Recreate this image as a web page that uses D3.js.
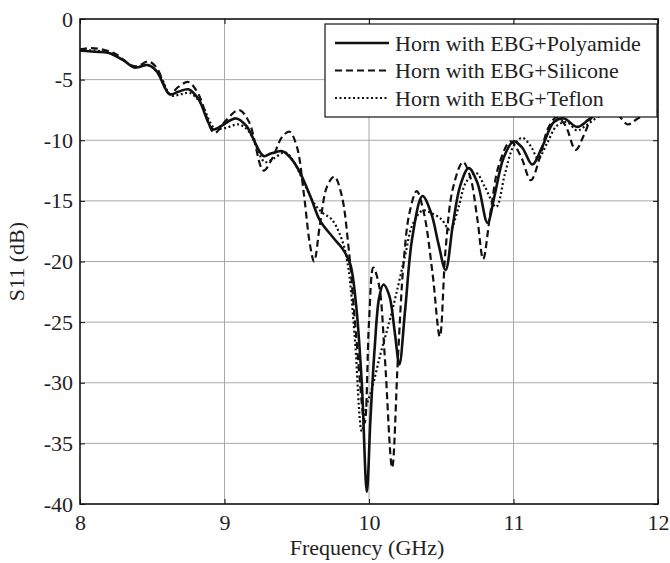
<!DOCTYPE html>
<html>
<head>
<meta charset="utf-8">
<script src="https://cdn.jsdelivr.net/npm/d3@7"></script>
<style>
  html, body { margin: 0; padding: 0; background: #fff; }
  svg { display: block; }
  text { font-family: "Liberation Serif", "Times New Roman", serif; fill: #222; }
</style>
</head>
<body>
<svg id="chart" width="670" height="563"></svg>
<script>
// ---------- DATA ----------
const xTicks = [8, 9, 10, 11, 12];
const yTicks = [0, -5, -10, -15, -20, -25, -30, -35, -40];
const seriesNames = ["Horn with EBG+Polyamide", "Horn with EBG+Silicone", "Horn with EBG+Teflon"];

const polyamide = [
  [8.00,-2.6],[8.10,-2.7],[8.20,-2.8],[8.30,-3.4],[8.38,-4.0],[8.47,-3.8],[8.53,-4.3],
  [8.62,-6.2],[8.68,-6.0],[8.75,-5.8],[8.82,-6.6],[8.92,-9.1],[8.98,-8.8],[9.08,-8.2],
  [9.15,-8.8],[9.27,-11.3],[9.32,-11.1],[9.40,-10.9],[9.46,-11.5],[9.52,-12.6],[9.60,-14.8],
  [9.66,-16.6],[9.75,-18.0],[9.82,-19.0],[9.87,-20.2],[9.91,-23.5],[9.95,-30],[9.985,-39.0],
  [10.01,-33],[10.04,-27],[10.07,-23],[10.10,-21.9],[10.14,-22.8],[10.18,-26],[10.21,-28.5],
  [10.25,-24],[10.30,-18],[10.37,-14.6],[10.43,-16],[10.48,-18.5],[10.53,-20.7],[10.58,-17],
  [10.63,-13.8],[10.69,-12.3],[10.75,-13.5],[10.82,-16.8],[10.87,-14.5],[10.93,-11.5],
  [11.00,-10.1],[11.06,-10.6],[11.13,-12.0],[11.20,-10.5],[11.28,-8.5],[11.35,-8.2],
  [11.44,-8.9],[11.52,-8.3],[11.60,-7.6],[11.70,-7.3],[11.80,-7.6],[11.90,-7.7],[12.00,-7.6]
];

const silicone = [
  [8.00,-2.5],[8.08,-2.4],[8.15,-2.5],[8.25,-2.9],[8.35,-3.8],[8.40,-3.9],[8.47,-3.5],
  [8.53,-4.0],[8.62,-6.2],[8.68,-5.6],[8.75,-5.2],[8.82,-6.2],[8.93,-9.4],[9.00,-8.5],
  [9.10,-7.5],[9.17,-8.5],[9.27,-12.5],[9.33,-11.5],[9.40,-9.7],[9.45,-9.3],[9.50,-10.5],
  [9.55,-14.5],[9.59,-18.5],[9.62,-20.0],[9.66,-17],[9.71,-13.8],[9.76,-13.0],[9.81,-14.5],
  [9.86,-19],[9.91,-26],[9.97,-33.3],[10.00,-25],[10.03,-20.5],[10.07,-22],[10.11,-28],
  [10.16,-37.0],[10.20,-28],[10.24,-20],[10.28,-16],[10.33,-14.2],[10.38,-16],[10.44,-21],
  [10.49,-26.2],[10.53,-19],[10.58,-14],[10.65,-11.8],[10.70,-13],[10.75,-16.5],[10.79,-19.8],
  [10.84,-16],[10.90,-12],[10.98,-10.1],[11.05,-11.3],[11.12,-13.3],[11.18,-11.5],[11.24,-9],
  [11.30,-8.1],[11.36,-8.8],[11.43,-10.8],[11.49,-9.5],[11.55,-8.0],[11.65,-7.5],[11.73,-8.0],
  [11.79,-8.7],[11.86,-8.2],[11.93,-7.8],[12.00,-7.6]
];

const teflon = [
  [8.00,-2.6],[8.10,-2.6],[8.20,-2.8],[8.30,-3.4],[8.38,-4.0],[8.47,-3.8],[8.55,-4.6],
  [8.63,-6.3],[8.70,-6.2],[8.76,-6.1],[8.84,-7.0],[8.93,-9.0],[9.00,-9.0],[9.10,-8.7],
  [9.17,-9.3],[9.28,-11.8],[9.34,-11.5],[9.42,-11.0],[9.48,-11.8],[9.55,-13.5],[9.62,-15.2],
  [9.68,-16.0],[9.74,-16.5],[9.80,-17.8],[9.85,-20],[9.90,-26],[9.95,-34.0],[9.98,-32],
  [10.02,-30.5],[10.08,-27.6],[10.14,-25],[10.19,-22.6],[10.25,-19.5],[10.30,-17],
  [10.37,-15.8],[10.43,-16.0],[10.50,-16.5],[10.56,-17.4],[10.62,-15.5],[10.67,-13.5],
  [10.74,-12.7],[10.80,-13.8],[10.88,-15.5],[10.94,-12.8],[11.00,-10.5],[11.06,-9.8],
  [11.12,-10.5],[11.17,-11.5],[11.23,-10.3],[11.30,-8.8],[11.37,-8.5],[11.44,-9.2],
  [11.50,-8.8],[11.60,-8.0],[11.75,-7.7],[11.90,-7.8],[12.00,-7.5]
];

const allSeries = [polyamide, silicone, teflon];
const dashes = [null, "7,4", "2,2.5"];

// ---------- LAYOUT ----------
const svg = d3.select("#chart");
const L = 80, R = 658, T = 19, B = 504;

const x = d3.scaleLinear().domain([8, 12]).range([L, R]);
const y = d3.scaleLinear().domain([-40, 0]).range([B, T]);

// grid
const grid = svg.append("g");
grid.selectAll(".gx").data(xTicks.slice(1, -1)).enter().append("line")
  .attr("x1", d => x(d)).attr("x2", d => x(d)).attr("y1", T).attr("y2", B)
  .attr("stroke", "#a8a8a8").attr("stroke-width", 1);
grid.selectAll(".gy").data(yTicks.slice(1, -1)).enter().append("line")
  .attr("y1", d => y(d)).attr("y2", d => y(d)).attr("x1", L).attr("x2", R)
  .attr("stroke", "#a8a8a8").attr("stroke-width", 1);

// clip
svg.append("clipPath").attr("id", "clip").append("rect")
  .attr("x", L).attr("y", T).attr("width", R - L).attr("height", B - T);

const line = d3.line().x(d => x(d[0])).y(d => y(d[1])).curve(d3.curveCatmullRom.alpha(0.5));

svg.append("g").attr("clip-path", "url(#clip)")
  .selectAll("path").data(allSeries).enter().append("path")
  .attr("d", d => line(d))
  .attr("fill", "none")
  .attr("stroke", "#111")
  .attr("stroke-width", (d, i) => i === 0 ? 2.6 : 2.2)
  .attr("stroke-dasharray", (d, i) => dashes[i]);

// axes with inward ticks
const tickLen = 5;
const fmt = d => String(d);
const axB = d3.axisBottom(x).tickValues(xTicks).tickSize(-tickLen).tickPadding(10).tickFormat(fmt);
const axT = d3.axisTop(x).tickValues(xTicks).tickSize(-tickLen).tickFormat("");
const axL = d3.axisLeft(y).tickValues(yTicks).tickSize(-tickLen).tickPadding(7).tickFormat(fmt);
const axR = d3.axisRight(y).tickValues(yTicks).tickSize(-tickLen).tickFormat("");

function styleAxis(g) {
  g.select(".domain").remove();
  g.selectAll(".tick line").attr("stroke", "#111").attr("stroke-width", 1);
  g.selectAll("text").attr("font-size", 22).attr("fill", "#222")
    .attr("font-family", '"Liberation Serif", "Times New Roman", serif');
}
svg.append("g").attr("transform", `translate(0,${B})`).call(axB).call(styleAxis);
svg.append("g").attr("transform", `translate(0,${T})`).call(axT).call(styleAxis);
svg.append("g").attr("transform", `translate(${L},0)`).call(axL).call(styleAxis);
svg.append("g").attr("transform", `translate(${R},0)`).call(axR).call(styleAxis);

// legend
const lg = svg.append("g");
lg.append("rect").attr("x", 325).attr("y", 24).attr("width", 332).attr("height", 93)
  .attr("fill", "#fff").attr("stroke", "#111").attr("stroke-width", 1.2);
const lItems = lg.selectAll(".li").data(seriesNames).enter().append("g")
  .attr("transform", (d, i) => `translate(0,${43 + i * 27.5})`);
lItems.append("line").attr("x1", 335).attr("x2", 389).attr("y1", 0).attr("y2", 0)
  .attr("stroke", "#111").attr("stroke-width", (d, i) => i === 0 ? 2.6 : 2.2)
  .attr("stroke-dasharray", (d, i) => dashes[i]);
lItems.append("text").attr("x", 395).attr("y", 7.5).attr("font-size", 22).text(d => d);

// box
svg.append("rect").attr("x", L).attr("y", T).attr("width", R - L).attr("height", B - T)
  .attr("fill", "none").attr("stroke", "#111").attr("stroke-width", 1.6);

// axis labels
svg.append("text").attr("x", (L + R) / 2 - 2).attr("y", 555).attr("text-anchor", "middle")
  .attr("font-size", 22).text("Frequency (GHz)");
svg.append("text").attr("transform", `translate(24,${(T + B) / 2}) rotate(-90)`)
  .attr("text-anchor", "middle").attr("font-size", 22).text("S11 (dB)");
</script>
</body>
</html>
